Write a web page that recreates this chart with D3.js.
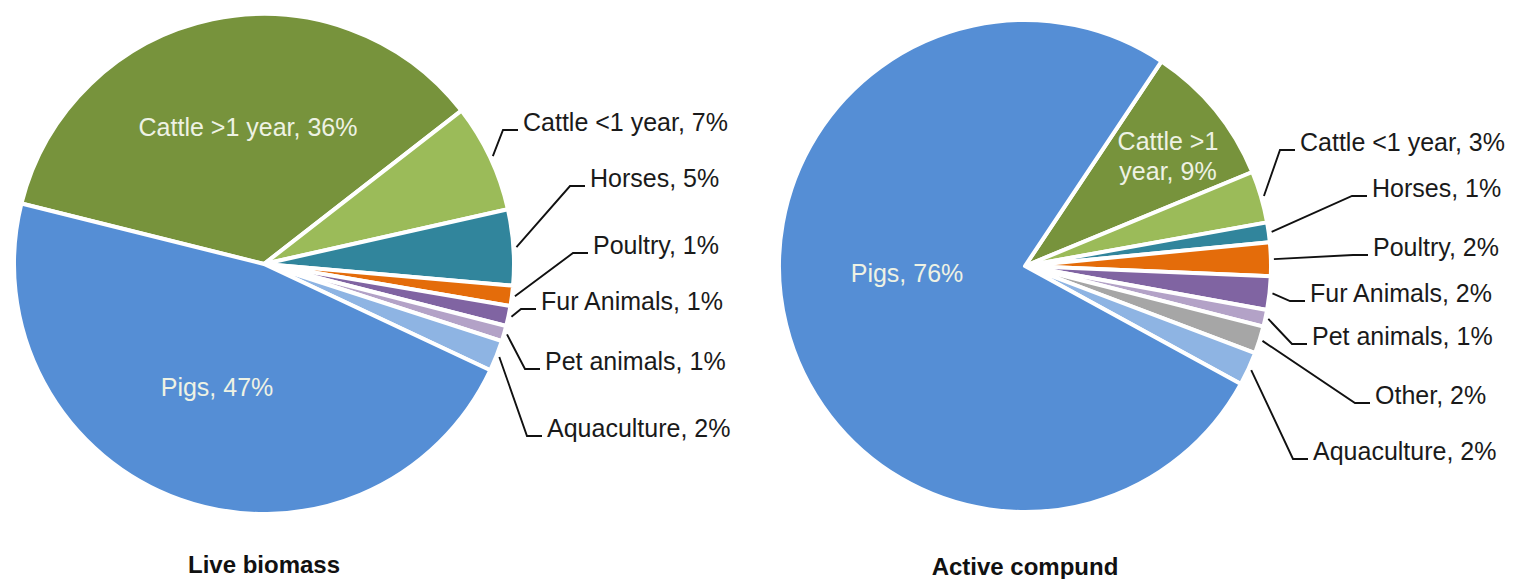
<!DOCTYPE html>
<html>
<head>
<meta charset="utf-8">
<script src="https://cdn.jsdelivr.net/npm/d3@7"></script>
<style>
  body { margin: 0; background: #fff; }
  svg { font-family: "Liberation Sans", Arial, sans-serif; }
  .lbl { font-size: 25px; fill: #1a1a1a; }
  .inlbl { font-size: 25px; fill: #eef2e4; }
  .title { font-size: 24px; font-weight: bold; fill: #111; }
  .leader { fill: none; stroke: #111; stroke-width: 1.9; }
</style>
</head>
<body>
<svg width="1516" height="579"></svg>
<script>
// **** data ****
var liveCategories = ["Cattle >1 year", "Cattle <1 year", "Horses", "Poultry", "Fur Animals", "Pet animals", "Aquaculture", "Pigs"];
var liveValues = [35.6, 7.0, 4.9, 1.3, 1.3, 1.0, 2.0, 46.9];

var activeCategories = ["Cattle >1 year", "Cattle <1 year", "Horses", "Poultry", "Fur Animals", "Pet animals", "Other", "Aquaculture", "Pigs"];
var activeValues = [9.4, 3.4, 1.3, 2.2, 2.2, 1.1, 1.8, 2.2, 76.4];

var titles = ["Live biomass", "Active compund"];

var colors = {
    "Pigs": "#558ed5",
    "Cattle >1 year": "#77933c",
    "Cattle <1 year": "#9bbb59",
    "Horses": "#31859c",
    "Poultry": "#e46c0a",
    "Fur Animals": "#8064a2",
    "Pet animals": "#b3a2c7",
    "Other": "#a6a6a6",
    "Aquaculture": "#8eb4e3"
};

// **** layout (label spots relative to pie centre) ****
var liveLayout = {
    cx: 264, cy: 264, r: 250, start: -76, titleY: 573,
    labels: {
        "Cattle >1 year": {dx: -16, dy: -128, inside: true},
        "Pigs": {dx: -47, dy: 132, inside: true},
        "Cattle <1 year": {dx: 259, dy: -133},
        "Horses": {dx: 326, dy: -77},
        "Poultry": {dx: 329, dy: -10},
        "Fur Animals": {dx: 277, dy: 46},
        "Pet animals": {dx: 281, dy: 106},
        "Aquaculture": {dx: 283, dy: 173}
    }
};

var activeLayout = {
    cx: 1025, cy: 266, r: 246, start: 33.7, titleY: 575,
    labels: {
        "Cattle >1 year": {dx: 143, dy: -116, inside: true, lines: ["Cattle >1", "year, "]},
        "Pigs": {dx: -118, dy: 16, inside: true},
        "Cattle <1 year": {dx: 275, dy: -115},
        "Horses": {dx: 347, dy: -69},
        "Poultry": {dx: 348, dy: -10},
        "Fur Animals": {dx: 285, dy: 36},
        "Pet animals": {dx: 287, dy: 79},
        "Other": {dx: 350, dy: 138},
        "Aquaculture": {dx: 288, dy: 194}
    }
};

var svg = d3.select("svg");

function drawPie(categories, values, layout, title) {
    var data = categories.map(function (c, i) { return {name: c, value: values[i]}; });
    var a0 = layout.start * Math.PI / 180;
    var pie = d3.pie().sort(null).value(function (d) { return d.value; })
        .startAngle(a0).endAngle(a0 + 2 * Math.PI);
    var arcs = pie(data);
    var arc = d3.arc().innerRadius(0).outerRadius(layout.r);
    var edge = d3.arc().innerRadius(layout.r + 3).outerRadius(layout.r + 3);

    var g = svg.append("g").attr("transform", "translate(" + layout.cx + "," + layout.cy + ")");

    g.selectAll("path.slice").data(arcs).enter().append("path")
        .attr("class", "slice")
        .attr("d", arc)
        .style("fill", function (d) { return colors[d.data.name]; })
        .style("stroke", "#fff")
        .style("stroke-width", 4)
        .style("stroke-linejoin", "round");

    arcs.forEach(function (d) {
        var L = layout.labels[d.data.name];
        var pct = Math.round(d.data.value) + "%";
        if (L.inside) {
            var t = g.append("text").attr("class", "inlbl").attr("text-anchor", "middle");
            if (L.lines) {
                t.append("tspan").attr("x", L.dx).attr("y", L.dy).text(L.lines[0]);
                t.append("tspan").attr("x", L.dx).attr("y", L.dy + 30).text(L.lines[1] + pct);
            } else {
                t.attr("x", L.dx).attr("y", L.dy).text(d.data.name + ", " + pct);
            }
        } else {
            var p = edge.centroid(d);
            var ly = L.dy - 1;
            g.append("path").attr("class", "leader")
                .attr("d", d3.line()([p, [L.dx - 20, ly], [L.dx - 5, ly]]));
            g.append("text").attr("class", "lbl")
                .attr("x", L.dx).attr("y", L.dy)
                .text(d.data.name + ", " + pct);
        }
    });

    svg.append("text").attr("class", "title")
        .attr("text-anchor", "middle")
        .attr("x", layout.cx).attr("y", layout.titleY)
        .text(title);
}

drawPie(liveCategories, liveValues, liveLayout, titles[0]);
drawPie(activeCategories, activeValues, activeLayout, titles[1]);
</script>
</body>
</html>
